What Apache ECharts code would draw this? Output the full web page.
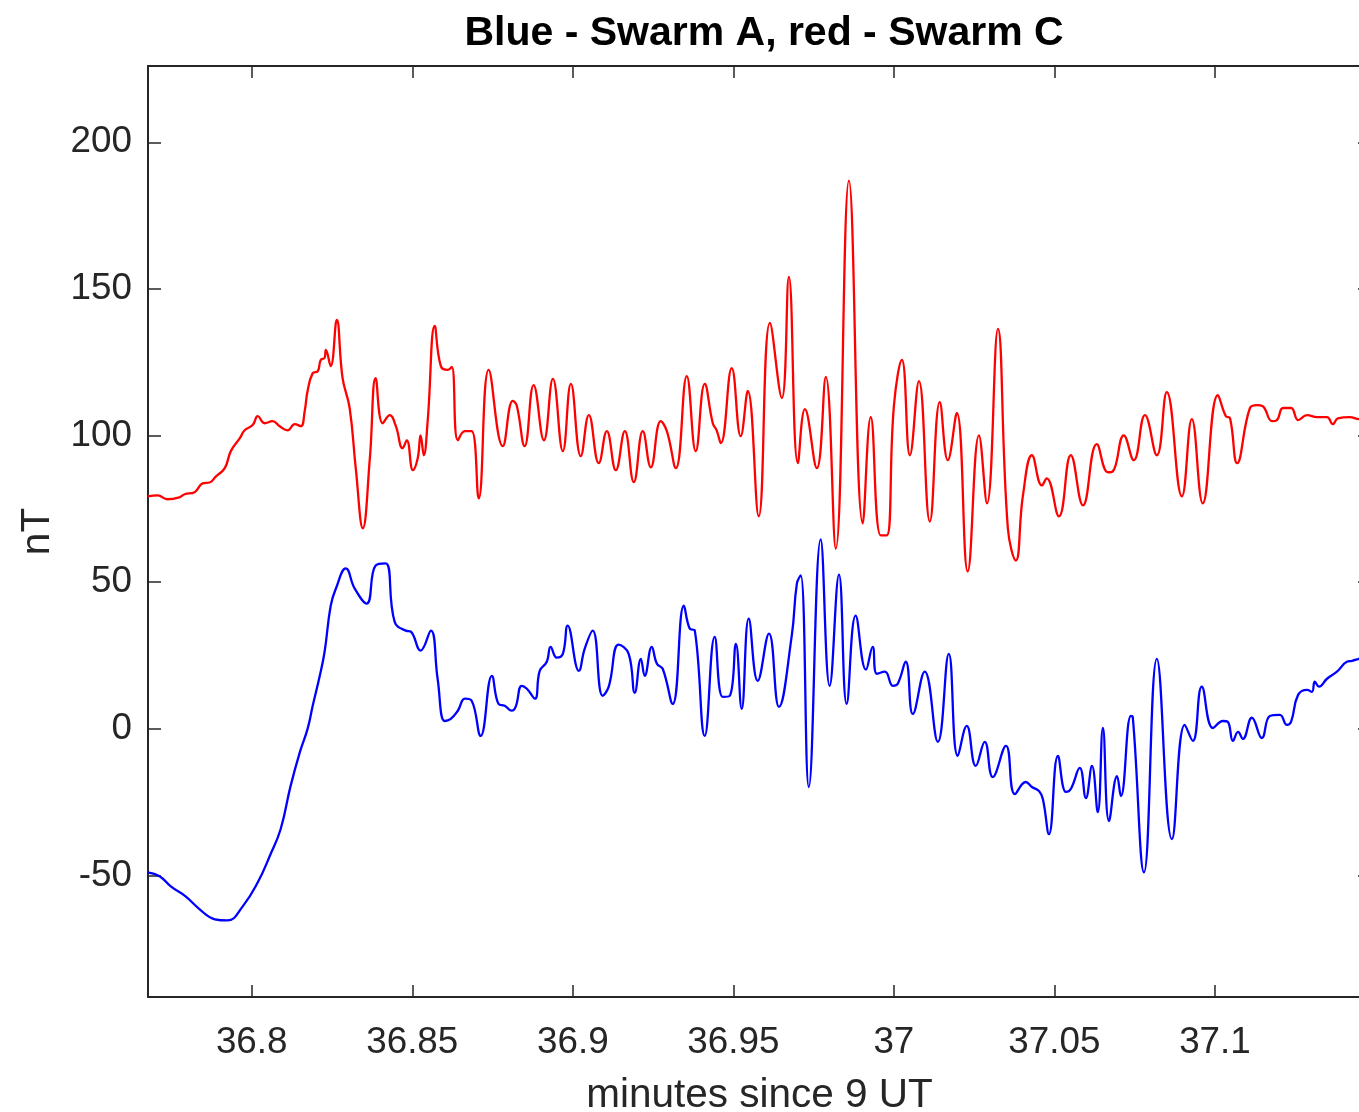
<!DOCTYPE html>
<html>
<head>
<meta charset="utf-8">
<script src="https://cdn.jsdelivr.net/npm/echarts@6/dist/echarts.min.js"></script>
<style>
  html, body { margin: 0; padding: 0; background: #ffffff; }
  #chart { width: 1359px; height: 1112px; }
</style>
</head>
<body>
<div id="chart"></div>
<script>
// Axis ticks (minutes since 9 UT, nT)
const xTicks = [36.8, 36.85, 36.9, 36.95, 37, 37.05, 37.1];
const yTicks = [-50, 0, 50, 100, 150, 200];

// Swarm C (red): time in minutes since 9 UT and field perturbation in nT
const swarmCTime = [
  36.7676, 36.7707, 36.7738, 36.7776, 36.7791, 36.7822, 36.7847, 36.7869, 36.7888, 36.7916,
  36.7935, 36.7963, 36.7978, 36.8003, 36.8019, 36.8040, 36.8065, 36.8087, 36.8112, 36.8134,
  36.8153, 36.8165, 36.8174, 36.8190, 36.8206, 36.8215, 36.8227, 36.8231, 36.8246, 36.8265,
  36.8283, 36.8305, 36.8324, 36.8346, 36.8368, 36.8386, 36.8408, 36.8430, 36.8449, 36.8470,
  36.8483, 36.8502, 36.8517, 36.8526, 36.8536, 36.8548, 36.8570, 36.8589, 36.8611, 36.8623,
  36.8642, 36.8664, 36.8685, 36.8707, 36.8738, 36.8782, 36.8813, 36.8825, 36.8850, 36.8878,
  36.8910, 36.8938, 36.8969, 36.8994, 36.9025, 36.9050, 36.9081, 36.9106, 36.9134, 36.9162,
  36.9190, 36.9218, 36.9243, 36.9274, 36.9293, 36.9321, 36.9355, 36.9383, 36.9411, 36.9436,
  36.9448, 36.9461, 36.9495, 36.9523, 36.9545, 36.9579, 36.9614, 36.9651, 36.9673, 36.9701,
  36.9723, 36.9760, 36.9788, 36.9819, 36.9860, 36.9903, 36.9928, 36.9959, 36.9978, 37.0000,
  37.0025, 37.0050, 37.0078, 37.0112, 37.0143, 37.0168, 37.0196, 37.0230, 37.0265, 37.0290,
  37.0324, 37.0355, 37.0380, 37.0402, 37.0430, 37.0461, 37.0476, 37.0514, 37.0551, 37.0589,
  37.0632, 37.0667, 37.0682, 37.0716, 37.0747, 37.0782, 37.0819, 37.0850, 37.0897, 37.0928,
  37.0962, 37.1009, 37.1034, 37.1047, 37.1069, 37.1109, 37.1131, 37.1149, 37.1178, 37.1193,
  37.1212, 37.1237, 37.1259, 37.1287, 37.1318, 37.1349, 37.1367, 37.1383, 37.1420, 37.1448,
  37.1483
];
const swarmCField = [
  79.3, 79.6, 78.3, 79.0, 80.0, 80.7, 83.7, 84.0, 86.0, 88.9,
  94.7, 99.1, 101.8, 103.6, 106.6, 104.2, 104.9, 103.2, 101.8, 103.9,
  103.2, 108.3, 115.2, 121.3, 122.0, 125.8, 126.5, 129.2, 123.7, 139.4,
  119.6, 109.4, 88.9, 68.4, 92.3, 119.6, 104.2, 107.0, 103.2, 95.7,
  98.4, 88.2, 92.3, 100.1, 93.3, 104.9, 137.4, 123.7, 122.4, 123.4,
  98.4, 101.5, 101.5, 78.6, 122.4, 96.4, 111.8, 110.4, 96.4, 117.2,
  98.4, 119.3, 94.7, 117.6, 93.0, 107.0, 90.6, 101.5, 88.2, 101.5,
  84.1, 101.5, 89.2, 104.9, 101.5, 88.9, 120.3, 94.7, 117.6, 104.2,
  101.8, 97.4, 123.0, 99.8, 115.2, 72.5, 138.4, 112.8, 154.1, 90.6,
  109.0, 88.9, 120.0, 61.5, 186.9, 70.1, 106.3, 66.0, 66.0, 110.0,
  125.8, 93.3, 118.6, 70.7, 111.4, 91.6, 107.7, 53.7, 100.1, 76.9,
  136.4, 68.4, 57.4, 79.6, 93.3, 83.0, 85.4, 72.5, 93.3, 76.2,
  97.1, 87.5, 87.8, 100.1, 91.6, 107.0, 93.3, 114.8, 79.3, 105.6,
  76.9, 113.8, 106.6, 105.9, 90.6, 109.4, 110.4, 110.0, 104.9, 105.3,
  109.4, 109.4, 105.3, 107.0, 106.3, 106.3, 103.9, 105.9, 106.3, 105.6,
  105.4
];

// Swarm A (blue): time in minutes since 9 UT and field perturbation in nT
const swarmATime = [
  36.7676, 36.7713, 36.7748, 36.7794, 36.7838, 36.7885, 36.7925, 36.7972, 36.8019, 36.8056,
  36.8090, 36.8121, 36.8150, 36.8174, 36.8190, 36.8212, 36.8227, 36.8246, 36.8262, 36.8293,
  36.8321, 36.8358, 36.8386, 36.8417, 36.8445, 36.8480, 36.8495, 36.8526, 36.8558, 36.8579,
  36.8601, 36.8620, 36.8642, 36.8664, 36.8685, 36.8713, 36.8748, 36.8769, 36.8788, 36.8810,
  36.8822, 36.8841, 36.8857, 36.8882, 36.8897, 36.8919, 36.8931, 36.8950, 36.8969, 36.8984,
  36.9019, 36.9037, 36.9062, 36.9093, 36.9112, 36.9143, 36.9174, 36.9193, 36.9212, 36.9224,
  36.9246, 36.9262, 36.9280, 36.9311, 36.9346, 36.9364, 36.9380, 36.9411, 36.9442, 36.9467,
  36.9489, 36.9508, 36.9526, 36.9548, 36.9576, 36.9611, 36.9642, 36.9682, 36.9698, 36.9710,
  36.9735, 36.9772, 36.9800, 36.9829, 36.9853, 36.9881, 36.9913, 36.9934, 36.9947, 36.9972,
  36.9997, 37.0012, 37.0037, 37.0059, 37.0096, 37.0137, 37.0171, 37.0199, 37.0227, 37.0255,
  37.0283, 37.0308, 37.0349, 37.0377, 37.0411, 37.0430, 37.0452, 37.0464, 37.0483, 37.0511,
  37.0536, 37.0551, 37.0579, 37.0598, 37.0617, 37.0635, 37.0651, 37.0670, 37.0695, 37.0707,
  37.0738, 37.0744, 37.0779, 37.0819, 37.0866, 37.0906, 37.0931, 37.0959, 37.0994, 37.1025,
  37.1040, 37.1056, 37.1072, 37.1087, 37.1115, 37.1146, 37.1171, 37.1202, 37.1224, 37.1237,
  37.1259, 37.1287, 37.1302, 37.1311, 37.1324, 37.1349, 37.1380, 37.1411, 37.1427, 37.1448,
  37.1483
];
const swarmAField = [
  -48.9, -50.2, -53.7, -57.1, -61.5, -64.9, -65.3, -60.5, -52.3, -43.4,
  -34.2, -19.5, -7.9, 0.0, 7.9, 18.1, 26.3, 42.0, 47.8, 54.7,
  47.8, 42.7, 55.7, 56.4, 36.6, 33.5, 33.2, 26.7, 33.5, 17.1,
  2.7, 3.4, 6.2, 10.3, 9.6, -2.4, 18.1, 8.5, 7.9, 6.2,
  7.5, 14.7, 13.7, 10.3, 19.8, 22.9, 28.0, 24.3, 25.6, 35.2,
  19.8, 27.3, 33.5, 11.3, 14.4, 28.7, 25.6, 12.3, 23.9, 18.1,
  28.0, 22.2, 20.5, 8.5, 42.0, 34.2, 33.5, -2.4, 31.4, 10.9,
  11.3, 29.0, 6.8, 37.6, 16.4, 32.5, 7.5, 31.8, 49.6, 52.3,
  -19.8, 64.6, 14.7, 52.6, 8.5, 38.6, 20.2, 28.0, 18.8, 19.5,
  14.7, 15.4, 22.9, 5.1, 19.5, -4.4, 25.6, -9.2, 1.0, -12.6,
  -4.4, -16.4, -5.8, -22.2, -18.1, -19.8, -21.2, -23.9, -35.9, -9.2,
  -21.5, -20.5, -13.3, -23.6, -12.6, -28.4, 0.3, -31.4, -16.1, -22.9,
  4.4, 4.1, -48.9, 23.9, -37.6, 1.4, -4.1, 14.4, 0.3, 2.7,
  2.4, -4.1, -1.0, -3.4, 3.8, -3.1, 4.4, 4.8, 1.4, 2.4,
  11.6, 13.3, 12.6, 16.1, 14.4, 17.1, 19.5, 22.9, 23.2, 23.9,
  25.0
];

const AXIS_COLOR = '#262626';
const FONT = '"Liberation Sans", Arial, Helvetica, sans-serif';
const X_MIN = 36.7677, X_MAX = 37.1486;
const Y_MIN = -91.4, Y_MAX = 226;

function pairs(t, v) {
  return t.map((x, i) => [x, v[i]]);
}

const frameLine = { show: true, onZero: false, lineStyle: { color: AXIS_COLOR, width: 2 } };
const tickStyle = { color: AXIS_COLOR, width: 1.5 };

const chart = echarts.init(document.getElementById('chart'), null, { renderer: 'canvas' });
chart.setOption({
  backgroundColor: '#ffffff',
  animation: false,
  title: {
    text: 'Blue - Swarm A, red - Swarm C',
    left: 759,
    top: 8,
    textAlign: 'center',
    textStyle: { fontFamily: FONT, fontSize: 41, fontWeight: 'bold', color: '#000000' }
  },
  grid: {
    left: 148, top: 66, width: 1223, height: 931,
    containLabel: false, outerBoundsMode: 'none'
  },
  xAxis: [
    {
      type: 'value', position: 'bottom', min: X_MIN, max: X_MAX,
      name: 'minutes since 9 UT', nameLocation: 'middle', nameGap: 78,
      nameTextStyle: { fontFamily: FONT, fontSize: 40.5, color: AXIS_COLOR },
      axisLine: frameLine,
      axisTick: { show: true, inside: true, length: 12, customValues: xTicks, lineStyle: tickStyle },
      axisLabel: { show: true, customValues: xTicks, margin: 27,
                   fontFamily: FONT, fontSize: 36.8, color: AXIS_COLOR },
      splitLine: { show: false }
    },
    {
      type: 'value', position: 'top', min: X_MIN, max: X_MAX,
      axisLine: frameLine,
      axisTick: { show: true, inside: true, length: 12, customValues: xTicks, lineStyle: tickStyle },
      axisLabel: { show: false },
      splitLine: { show: false }
    }
  ],
  yAxis: [
    {
      type: 'value', position: 'left', min: Y_MIN, max: Y_MAX,
      name: 'nT', nameLocation: 'middle', nameGap: 90, nameRotate: 90,
      nameTextStyle: { fontFamily: FONT, fontSize: 40.5, color: AXIS_COLOR },
      axisLine: frameLine,
      axisTick: { show: true, inside: true, length: 13, customValues: yTicks, lineStyle: tickStyle },
      axisLabel: { show: true, customValues: yTicks, margin: 16,
                   fontFamily: FONT, fontSize: 36.8, color: AXIS_COLOR },
      splitLine: { show: false }
    },
    {
      type: 'value', position: 'right', min: Y_MIN, max: Y_MAX,
      axisLine: frameLine,
      axisTick: { show: true, inside: true, length: 13, customValues: yTicks, lineStyle: tickStyle },
      axisLabel: { show: false },
      splitLine: { show: false }
    }
  ],
  series: [
    {
      name: 'Swarm A', type: 'line', xAxisIndex: 0, yAxisIndex: 0,
      data: pairs(swarmATime, swarmAField),
      showSymbol: false, smooth: 0.45, clip: true,
      lineStyle: { color: '#0000ff', width: 2.3 }
    },
    {
      name: 'Swarm C', type: 'line', xAxisIndex: 0, yAxisIndex: 0,
      data: pairs(swarmCTime, swarmCField),
      showSymbol: false, smooth: 0.45, clip: true,
      lineStyle: { color: '#ff0000', width: 2.3 }
    }
  ]
});
</script>
</body>
</html>
